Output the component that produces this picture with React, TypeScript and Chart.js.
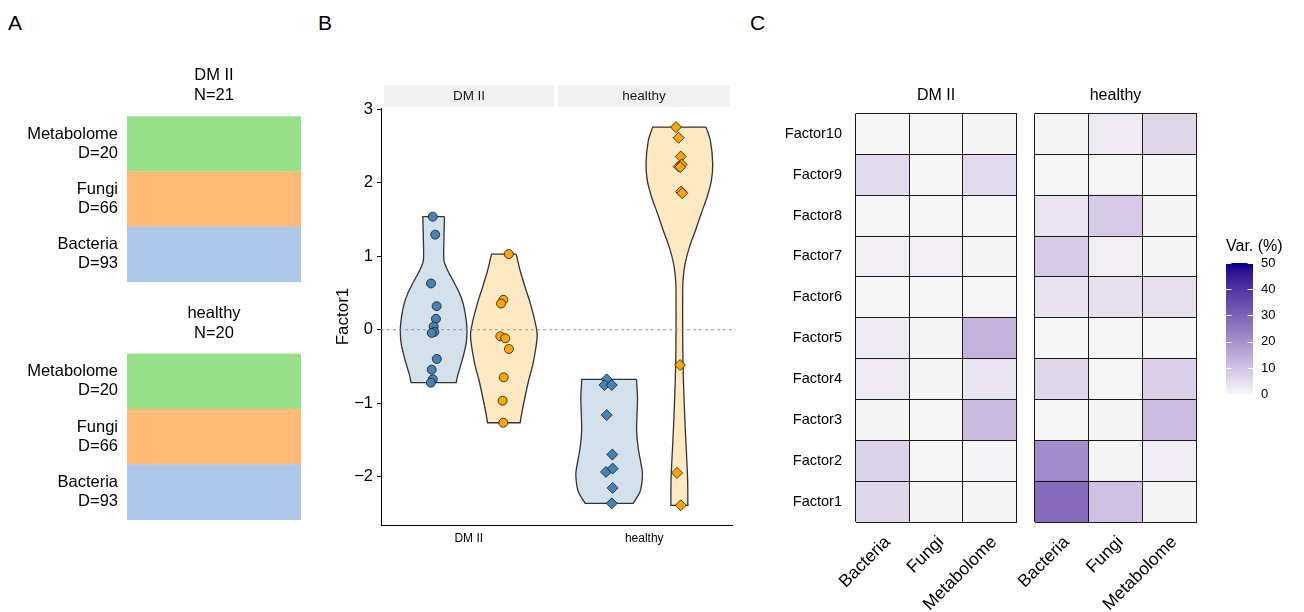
import React, { useEffect, useRef } from 'react';
import { Chart, registerables } from 'chart.js';

Chart.register(...registerables);

const FONT = '"Liberation Sans", Arial, Helvetica, sans-serif';

// ---------------- Panel A data ----------------
const groups = ['DM II', 'healthy'];
const groupN = [21, 20];
const views = ['Metabolome', 'Fungi', 'Bacteria'];
const viewDims = [20, 66, 93];
const viewColors = ['#98DF8A', '#FFBB78', '#AEC7E8'];

// ---------------- Panel B data ----------------
const bTickValues = [1, 2];
const yTickValues = [-2, -1, 0, 1, 2, 3];
const yMin = -2.658;
const yMax = 3.018;

// points (x = position on the group axis incl. jitter, y = Factor1)
const dmBlueX = [0.795, 0.809, 0.785, 0.817, 0.813, 0.8, 0.804, 0.789, 0.818, 0.789, 0.795, 0.784];
const dmBlueY = [1.539, 1.294, 0.63, 0.321, 0.148, 0.043, -0.03, -0.043, -0.398, -0.544, -0.675, -0.721];
const dmOrangeX = [1.228, 1.197, 1.184, 1.18, 1.208, 1.229, 1.199, 1.193, 1.197];
const dmOrangeY = [1.03, 0.407, 0.357, -0.089, -0.116, -0.262, -0.648, -0.966, -1.266];
const hBlueX = [1.786, 1.773, 1.815, 1.786, 1.818, 1.782, 1.82, 1.82, 1.815];
const hBlueY = [-0.675, -0.753, -0.753, -1.162, -1.699, -1.935, -1.89, -2.153, -2.363];
const hOrangeX = [2.181, 2.196, 2.208, 2.196, 2.213, 2.205, 2.209, 2.217, 2.204, 2.187, 2.208];
const hOrangeY = [2.758, 2.613, 2.358, 2.222, 2.249, 2.213, 1.881, 1.858, -0.48, -1.949, -2.39];

// violin outlines: y levels and relative half-widths (density, max = 1)
const violinCenters = [0.8, 1.2, 1.8, 2.2];
const violinHalfWidth = 0.19;
const vDmBlueY = [1.539, 1.257, 0.94, 0.803, 0.666, 0.507, 0.348, 0.12, -0.039, -0.198, -0.425, -0.607, -0.721];
const vDmBlueW = [0.325, 0.31, 0.31, 0.425, 0.585, 0.765, 0.89, 0.98, 1.0, 0.97, 0.85, 0.73, 0.675];
const vDmOrangeY = [1.03, 0.803, 0.575, 0.348, 0.12, -0.062, -0.244, -0.471, -0.698, -0.926, -1.153, -1.266];
const vDmOrangeW = [0.37, 0.49, 0.64, 0.8, 0.93, 1.0, 0.96, 0.87, 0.74, 0.63, 0.53, 0.49];
const vHBlueY = [-0.675, -0.925, -1.153, -1.38, -1.607, -1.835, -1.971, -2.199, -2.363];
const vHBlueW = [0.82, 0.85, 0.835, 0.825, 0.87, 0.96, 1.0, 0.93, 0.72];
const vHOrangeY = [2.758, 2.576, 2.258, 2.03, 1.803, 1.576, 1.348, 1.121, 0.894, 0.666, 0.439, -0.016, -0.471, -0.925, -1.38, -1.835, -2.063, -2.39];
const vHOrangeW = [0.8, 0.93, 1.0, 0.96, 0.83, 0.65, 0.48, 0.3, 0.17, 0.11, 0.1, 0.1, 0.11, 0.14, 0.18, 0.23, 0.25, 0.255];

const BLUE = '#4682B4';
const ORANGE = '#FFA500';

// ---------------- Panel C data ----------------
const factors = ['Factor1', 'Factor2', 'Factor3', 'Factor4', 'Factor5', 'Factor6', 'Factor7', 'Factor8', 'Factor9', 'Factor10'];
const heatViews = ['Bacteria', 'Fungi', 'Metabolome'];
// variance explained (%) per factor (Factor1..Factor10)
const varDmBacteria = [6, 7, 0.3, 2.5, 2.5, 0.2, 1.5, 0.2, 5.5, 0.2];
const varDmFungi = [0.3, 0.2, 0.2, 0.3, 0.3, 0.2, 1.5, 0.2, 0.2, 0.1];
const varDmMetabolome = [0.4, 0.5, 11.5, 3.5, 13, 0.2, 0.3, 0.2, 5.5, 0.3];
const varHBacteria = [28, 21, 0.2, 6, 0.2, 4, 8.5, 3.5, 0.2, 0.3];
const varHFungi = [10.5, 0.3, 0.3, 0.2, 0.2, 4.5, 1.5, 8.5, 0.2, 2.5];
const varHMetabolome = [0.3, 2, 11, 7.5, 0.2, 4.5, 0.4, 0.3, 0.2, 6];
const varTicks = [0, 10, 20, 30, 40, 50];
const varMax = 50;

// ---------------- colour scale (Lab interpolation gray97 -> darkblue) ----------------
const LOW_RGB = [247, 247, 247];
const HIGH_RGB = [0, 0, 139];
const WN = [0.95047, 1, 1.08883];
const toLin = (c: number) => { const s = c / 255; return s <= 0.04045 ? s / 12.92 : Math.pow((s + 0.055) / 1.055, 2.4); };
const fromLin = (c: number) => { const s = c <= 0.0031308 ? 12.92 * c : 1.055 * Math.pow(Math.max(c, 0), 1 / 2.4) - 0.055; return Math.round(Math.min(1, Math.max(0, s)) * 255); };
function rgb2lab(rgb: number[]) {
  const [r, g, b] = rgb.map(toLin);
  const X = (0.4124564 * r + 0.3575761 * g + 0.1804375 * b) / WN[0];
  const Y = (0.2126729 * r + 0.7151522 * g + 0.072175 * b) / WN[1];
  const Z = (0.0193339 * r + 0.119192 * g + 0.9503041 * b) / WN[2];
  const f = (t: number) => (t > 216 / 24389 ? Math.cbrt(t) : ((24389 / 27) * t + 16) / 116);
  const fx = f(X), fy = f(Y), fz = f(Z);
  return [116 * fy - 16, 500 * (fx - fy), 200 * (fy - fz)];
}
function lab2rgb(lab: number[]) {
  const [L, a, b] = lab;
  const fy = (L + 16) / 116, fx = fy + a / 500, fz = fy - b / 200;
  const finv = (t: number) => (t * t * t > 216 / 24389 ? t * t * t : (116 * t - 16) / (24389 / 27));
  const X = finv(fx) * WN[0], Y = finv(fy) * WN[1], Z = finv(fz) * WN[2];
  const r = 3.2404542 * X - 1.5371385 * Y - 0.4985314 * Z;
  const g = -0.969266 * X + 1.8760108 * Y + 0.041556 * Z;
  const bb = 0.0556434 * X - 0.2040259 * Y + 1.0572252 * Z;
  return `rgb(${fromLin(r)},${fromLin(g)},${fromLin(bb)})`;
}
const LOW_LAB = rgb2lab(LOW_RGB);
const HIGH_LAB = rgb2lab(HIGH_RGB);
function colorFor(v: number) {
  const t = Math.min(1, Math.max(0, v / varMax));
  return lab2rgb(LOW_LAB.map((l, i) => l + (HIGH_LAB[i] - l) * t));
}

// ---------------- helpers ----------------
function violinPath(center: number, ys: number[], ws: number[]) {
  const n = ys.length;
  const right = ys.map((y, i) => ({ x: center + ws[i] * violinHalfWidth, y }));
  const left = ys.map((y, i) => ({ x: center - ws[i] * violinHalfWidth, y }));
  const pts: { x: number; y: number }[] = [];
  pts.push(right[0], right[0]);
  for (let i = 1; i < n - 1; i++) pts.push(right[i]);
  pts.push(right[n - 1], right[n - 1], left[n - 1], left[n - 1]);
  for (let i = n - 2; i >= 1; i--) pts.push(left[i]);
  pts.push(left[0], left[0], right[0]);
  return pts;
}
const pairs = (xs: number[], ys: number[]) => xs.map((x, i) => ({ x, y: ys[i] }));
const fmtMinus = (v: number) => (v < 0 ? '\u2212' + Math.abs(v) : String(v));

function ChartCanvas(props: { left: number; top: number; width: number; height: number; make: () => any }) {
  const ref = useRef<HTMLCanvasElement>(null);
  useEffect(() => {
    const chart = new Chart(ref.current as HTMLCanvasElement, props.make());
    return () => chart.destroy();
  }, []);
  return (
    <canvas
      ref={ref}
      width={props.width}
      height={props.height}
      style={{ position: 'absolute', left: props.left, top: props.top, width: props.width, height: props.height, display: 'block' }}
    />
  );
}

// ---------------- chart configs ----------------
function makePanelA(gi: number, padTop: number, padBottom: number) {
  return {
    type: 'bar',
    data: {
      labels: views.map((v, i) => [v, 'D=' + viewDims[i]]),
      datasets: [
        {
          data: views.map(() => 1),
          backgroundColor: viewColors,
          borderWidth: 0,
          barPercentage: 1,
          categoryPercentage: 1,
        },
      ],
    },
    options: {
      indexAxis: 'y',
      responsive: false,
      animation: false,
      devicePixelRatio: 1,
      layout: { padding: { left: 0, right: 0, top: 0, bottom: 30 } },
      plugins: {
        legend: { display: false },
        tooltip: { enabled: false },
        title: {
          display: true,
          text: [groups[gi], 'N=' + groupN[gi]],
          fullSize: false,
          color: '#000',
          font: { family: FONT, size: 16.5, weight: 'normal', lineHeight: 1.2 },
          padding: { top: padTop, bottom: padBottom },
        },
      },
      scales: {
        x: { display: false, min: 0, max: 1 },
        y: {
          grid: { display: false, drawTicks: false },
          border: { display: false },
          ticks: { color: '#000', font: { family: FONT, size: 16.5, lineHeight: 1.15 }, padding: 9, autoSkip: false },
          afterFit: (s: any) => { s.width = 127; },
        },
      },
    },
  };
}

const stripPlugin = {
  id: 'facetStrips',
  beforeDraw(chart: any) {
    const { ctx, chartArea: ca, scales } = chart;
    const x = scales.x;
    const bounds = [[0.5, 1.5], [1.5, 2.5]];
    ctx.save();
    groups.forEach((g, i) => {
      const l = x.getPixelForValue(bounds[i][0]) + (i === 0 ? 3 : 1.5);
      const r = x.getPixelForValue(bounds[i][1]) - (i === 0 ? 2.5 : 2);
      ctx.fillStyle = '#F0F0F0';
      ctx.fillRect(l, ca.top - 23, r - l, 22);
      ctx.fillStyle = '#1a1a1a';
      ctx.font = `13.5px ${FONT}`;
      ctx.textAlign = 'center';
      ctx.textBaseline = 'middle';
      ctx.fillText(g, (l + r) / 2, ca.top - 12);
    });
    ctx.restore();
  },
};

function makePanelB() {
  const violinStyle = (fill: string) => ({
    showLine: true,
    fill: 'shape',
    backgroundColor: fill,
    borderColor: '#333333',
    borderWidth: 1.3,
    pointRadius: 0,
    tension: 0.3,
    order: 3,
  });
  const pointStyle = (color: string, style: string, r: number) => ({
    pointStyle: style,
    pointRadius: r,
    backgroundColor: color,
    borderColor: '#1a1a1a',
    borderWidth: 0.8,
    order: 0,
  });
  return {
    type: 'scatter',
    data: {
      datasets: [
        { ...violinStyle('rgba(70,130,180,0.24)'), data: violinPath(violinCenters[0], vDmBlueY, vDmBlueW) },
        { ...violinStyle('rgba(255,165,0,0.24)'), data: violinPath(violinCenters[1], vDmOrangeY, vDmOrangeW) },
        { ...violinStyle('rgba(70,130,180,0.24)'), data: violinPath(violinCenters[2], vHBlueY, vHBlueW) },
        { ...violinStyle('rgba(255,165,0,0.24)'), data: violinPath(violinCenters[3], vHOrangeY, vHOrangeW) },
        {
          data: [{ x: 0.5, y: 0 }, { x: 2.5, y: 0 }],
          showLine: true,
          borderColor: '#9a9a9a',
          borderWidth: 1,
          borderDash: [3, 3],
          pointRadius: 0,
          order: 1,
        },
        { ...pointStyle(BLUE, 'circle', 4.5), data: pairs(dmBlueX, dmBlueY) },
        { ...pointStyle(ORANGE, 'circle', 4.5), data: pairs(dmOrangeX, dmOrangeY) },
        { ...pointStyle(BLUE, 'rectRot', 5.5), data: pairs(hBlueX, hBlueY) },
        { ...pointStyle(ORANGE, 'rectRot', 5.5), data: pairs(hOrangeX, hOrangeY) },
      ],
    },
    options: {
      responsive: false,
      animation: false,
      devicePixelRatio: 1,
      layout: { padding: { left: 0, right: 8, top: 28, bottom: 0 } },
      plugins: { legend: { display: false }, tooltip: { enabled: false } },
      scales: {
        x: {
          type: 'linear',
          min: 0.5,
          max: 2.5,
          afterBuildTicks: (s: any) => { s.ticks = bTickValues.map((v) => ({ value: v })); },
          ticks: {
            color: '#000',
            font: { family: FONT, size: 12 },
            padding: 6,
            callback: (v: number) => groups[bTickValues.indexOf(v)],
          },
          grid: { drawOnChartArea: false, drawTicks: false },
          border: { display: true, color: '#000', width: 1 },
          afterFit: (s: any) => { s.height = 35; },
        },
        y: {
          min: yMin,
          max: yMax,
          afterBuildTicks: (s: any) => { s.ticks = yTickValues.map((v) => ({ value: v })); },
          ticks: { color: '#000', font: { family: FONT, size: 16.5 }, padding: 4, callback: (v: number) => fmtMinus(v) },
          grid: { drawOnChartArea: false, drawTicks: true, tickLength: 4, color: '#000' },
          border: { display: true, color: '#000', width: 1 },
          title: { display: true, text: 'Factor1', color: '#000', font: { family: FONT, size: 17 }, padding: { top: 12.8, bottom: 0 } },
          afterFit: (s: any) => { s.width = 61; },
        },
      },
    },
    plugins: [stripPlugin],
  };
}

function makeHeat(gi: number) {
  const vals = gi === 0 ? [varDmBacteria, varDmFungi, varDmMetabolome] : [varHBacteria, varHFungi, varHMetabolome];
  const lineColor = '#1a1a1a';
  return {
    type: 'bar',
    data: {
      labels: heatViews,
      datasets: factors.map((f, fi) => ({
        label: f,
        data: heatViews.map(() => 1),
        backgroundColor: heatViews.map((_, vi) => colorFor(vals[vi][fi])),
        borderWidth: 0,
        barPercentage: 1,
        categoryPercentage: 1,
        yAxisID: 'y',
      })),
    },
    options: {
      responsive: false,
      animation: false,
      devicePixelRatio: 1,
      layout: { padding: { left: gi === 0 ? 0 : 35, right: 4, top: 0, bottom: 0 } },
      plugins: {
        legend: { display: false },
        tooltip: { enabled: false },
        title: {
          display: true,
          text: groups[gi],
          fullSize: false,
          color: '#000',
          font: { family: FONT, size: 16, weight: 'normal', lineHeight: 1.2 },
          padding: { top: 16.4, bottom: 7.9 },
        },
      },
      scales: {
        x: {
          stacked: true,
          offset: true,
          grid: { display: true, offset: true, color: lineColor, lineWidth: 1, drawTicks: false, z: 1 },
          border: { display: true, color: lineColor, width: 1, z: 1 },
          ticks: { color: '#000', font: { family: FONT, size: 17.5 }, minRotation: 45, maxRotation: 45, padding: 10, labelOffset: 5, autoSkip: false },
          afterFit: (s: any) => { s.height = 90; },
        },
        y: {
          stacked: true,
          min: 0,
          max: 10,
          position: 'left',
          display: gi === 0,
          afterBuildTicks: (s: any) => { s.ticks = factors.map((_, i) => ({ value: i + 0.5 })); },
          grid: { display: false, drawTicks: false },
          border: { display: false },
          ticks: { color: '#000', font: { family: FONT, size: 14.5 }, padding: 14, autoSkip: false, callback: (_: any, i: number) => factors[i] },
          afterFit: (s: any) => { s.width = gi === 0 ? 96 : 0; },
        },
        y2: {
          min: 0,
          max: 10,
          position: 'right',
          afterBuildTicks: (s: any) => { s.ticks = factors.map((_, i) => ({ value: i })).concat([{ value: factors.length }]); },
          grid: { color: lineColor, lineWidth: 1, drawTicks: false, z: 1 },
          border: { display: true, color: lineColor, width: 1, z: 1 },
          ticks: { display: false },
          afterFit: (s: any) => { s.width = 0; },
        },
      },
    },
  };
}

const colorbarPlugin = {
  id: 'colorbar',
  beforeDatasetsDraw(chart: any) {
    const { ctx, chartArea: ca, scales } = chart;
    const y = scales.y;
    const y0 = y.getPixelForValue(0);
    const y1 = y.getPixelForValue(varMax);
    ctx.save();
    const g = ctx.createLinearGradient(0, y0, 0, y1);
    for (let i = 0; i <= 25; i++) g.addColorStop(i / 25, colorFor((varMax * i) / 25));
    ctx.fillStyle = g;
    ctx.fillRect(ca.left, y1, ca.right - ca.left, y0 - y1);
    ctx.strokeStyle = '#ffffff';
    ctx.lineWidth = 1;
    const tl = (ca.right - ca.left) / 5;
    varTicks.forEach((v) => {
      const py = Math.round(y.getPixelForValue(v)) + 0.5;
      ctx.beginPath();
      ctx.moveTo(ca.left, py);
      ctx.lineTo(ca.left + tl, py);
      ctx.moveTo(ca.right - tl, py);
      ctx.lineTo(ca.right, py);
      ctx.stroke();
    });
    ctx.restore();
  },
};

function makeColorbar() {
  return {
    type: 'scatter',
    data: { datasets: [] },
    options: {
      responsive: false,
      animation: false,
      devicePixelRatio: 1,
      layout: { padding: { left: 10, right: 0, top: 0, bottom: 15.5 } },
      plugins: {
        legend: { display: false },
        tooltip: { enabled: false },
        title: {
          display: true,
          text: 'Var. (%)',
          align: 'start',
          color: '#000',
          font: { family: FONT, size: 16, weight: 'normal', lineHeight: 1.2 },
          padding: { top: 12.4, bottom: 6.4 },
        },
      },
      scales: {
        x: { display: false, min: 0, max: 1 },
        y: {
          position: 'right',
          min: 0,
          max: varMax,
          afterBuildTicks: (s: any) => { s.ticks = varTicks.map((v) => ({ value: v })); },
          grid: { display: false, drawTicks: false },
          border: { display: false },
          ticks: { color: '#000', font: { family: FONT, size: 13 }, padding: 8 },
          afterFit: (s: any) => { s.width = 51; },
        },
      },
    },
    plugins: [colorbarPlugin],
  };
}

function Letter(props: { text: string; left: number; top: number }) {
  return (
    <div style={{ position: 'absolute', left: props.left, top: props.top, fontFamily: FONT, fontSize: 21, lineHeight: '21px', color: '#000' }}>
      {props.text}
    </div>
  );
}

export default function App() {
  useEffect(() => {
    document.body.style.margin = '0';
  }, []);
  return (
    <div style={{ position: 'relative', width: 1304, height: 612, background: '#ffffff', overflow: 'hidden' }}>
      <Letter text="A" left={8} top={12} />
      <Letter text="B" left={318} top={12} />
      <Letter text="C" left={750} top={12} />
      <ChartCanvas left={0} top={60} width={301} height={252} make={() => makePanelA(0, 6, 10.6)} />
      <ChartCanvas left={0} top={299} width={301} height={251} make={() => makePanelA(1, 5, 10)} />
      <ChartCanvas left={320} top={80} width={420} height={480} make={makePanelB} />
      <ChartCanvas left={760} top={70} width={260} height={542} make={() => makeHeat(0)} />
      <ChartCanvas left={1000} top={70} width={200} height={542} make={() => makeHeat(1)} />
      <ChartCanvas left={1216} top={225} width={88} height={185} make={makeColorbar} />
    </div>
  );
}
